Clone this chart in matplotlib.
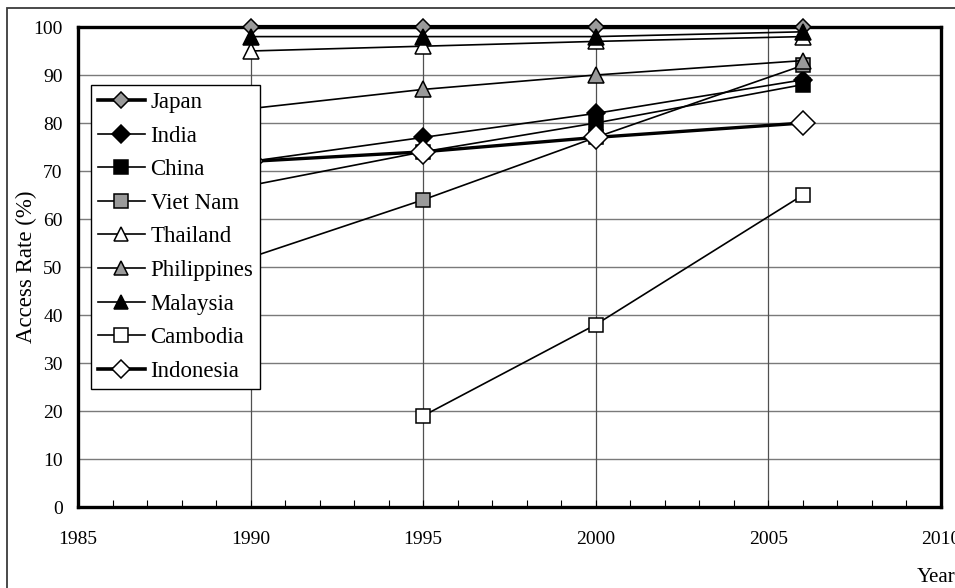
import matplotlib
matplotlib.use("Agg")
import matplotlib.pyplot as plt
from matplotlib.lines import Line2D
from matplotlib.patches import Rectangle
from matplotlib.ticker import MultipleLocator

plt.rcParams["font.family"] = ["Liberation Serif", "DejaVu Serif"]

# Access rate (%) by country and survey year
years = [1990, 1995, 2000, 2006]
japan = [100, 100, 100, 100]
india = [72, 77, 82, 89]
china = [67, 74, 80, 88]
viet_nam = [52, 64, 77, 92]
thailand = [95, 96, 97, 98]
philippines = [83, 87, 90, 93]
malaysia = [98, 98, 98, 99]
cambodia_years = [1995, 2000, 2006]
cambodia = [19, 38, 65]
indonesia = [72, 74, 77, 80]

x_ticks = [1985, 1990, 1995, 2000, 2005, 2010]
y_ticks = list(range(0, 101, 10))

GREY = "#9a9a9a"

series = [
    ("Japan", years, japan, dict(marker="D", mfc=GREY, ms=8.5, lw=3.0)),
    ("India", years, india, dict(marker="D", mfc="black", ms=9.5, lw=1.2)),
    ("China", years, china, dict(marker="s", mfc="black", ms=10, lw=1.2)),
    ("Viet Nam", years, viet_nam, dict(marker="s", mfc=GREY, ms=10, lw=1.2)),
    ("Thailand", years, thailand, dict(marker="^", mfc="white", ms=12, lw=1.2)),
    ("Philippines", years, philippines, dict(marker="^", mfc=GREY, ms=12, lw=1.2)),
    ("Malaysia", years, malaysia, dict(marker="^", mfc="black", ms=12, lw=1.2)),
    ("Cambodia", cambodia_years, cambodia, dict(marker="s", mfc="white", ms=10, lw=1.2)),
    ("Indonesia", years, indonesia, dict(marker="D", mfc="white", ms=12, lw=2.4)),
]

fig = plt.figure(figsize=(9.55, 5.88), dpi=100)
W, H = 955, 588

# outer chart frame
fig.patches.append(Rectangle((7 / W, -0.05), 1.2, (H - 8) / H + 0.05,
                             transform=fig.transFigure, fill=False,
                             edgecolor="#3a3a3a", lw=1.3, zorder=0))

ax = fig.add_axes([78 / W, (H - 507) / H, (941 - 78) / W, (507 - 27) / H])
ax.set_xlim(1985, 2010)
ax.set_ylim(0, 100)
ax.set_xticks(x_ticks)
ax.set_yticks(y_ticks)
ax.xaxis.set_minor_locator(MultipleLocator(1))

for y in y_ticks[1:-1]:
    ax.axhline(y, color="#7a7a7a", lw=1.0, zorder=1)
for x in x_ticks[1:-1]:
    ax.axvline(x, color="#505050", lw=0.9, zorder=1)

for name, xs, ys, st in series:
    ax.plot(xs, ys, color="black", marker=st["marker"], mfc=st["mfc"],
            mec="black", mew=1.1, ms=st["ms"], lw=st["lw"], label=name,
            clip_on=False, zorder=3)

for s in ax.spines.values():
    s.set_linewidth(2.4)
    s.set_color("black")

ax.tick_params(axis="x", which="both", direction="in", length=5, width=0.8,
               labelsize=14, pad=17)
ax.tick_params(axis="y", which="both", length=0, labelsize=14, pad=11)

fig.text(26 / W, (H - 267) / H, "Access Rate (%)", fontsize=16.5,
         rotation=90, ha="center", va="center")
fig.text(917 / W, (H - 578) / H, "Year", fontsize=15, va="center", ha="left")

# legend with its own handle sizes
handles = []
for name, xs, ys, st in series:
    ms = st["ms"] if name != "Indonesia" else 9
    lw = 2.6 if st["lw"] > 2 else 1.2
    handles.append(Line2D([], [], color="black", marker=st["marker"],
                          mfc=st["mfc"], mec="black", mew=1.1, ms=min(ms, 10.5),
                          lw=lw))
leg = ax.legend(handles, [s[0] for s in series], loc="upper left",
                bbox_to_anchor=(91 / W, (H - 85) / H),
                bbox_transform=fig.transFigure, fontsize=16.5, frameon=True,
                fancybox=False, edgecolor="black", framealpha=1,
                handlelength=2.05, handletextpad=0.25, labelspacing=0.55,
                borderpad=0.3, borderaxespad=0)
leg.get_frame().set_linewidth(1.0)
leg.set_zorder(5)

fig.savefig("out.png", dpi=100)
